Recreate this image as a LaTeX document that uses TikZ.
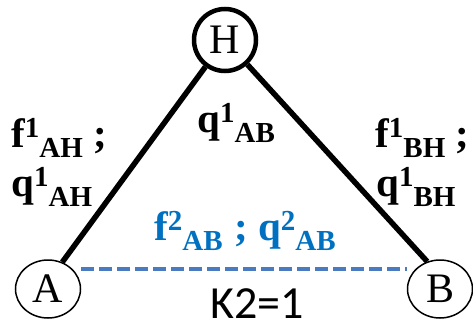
\documentclass[tikz,border=0pt]{standalone}
\usepackage{fontspec}
\setmainfont{Liberation Serif}
\newfontfamily\calfont{Carlito}
\usetikzlibrary{shapes.geometric, positioning, calc}
\definecolor{flowblue}{HTML}{0070C0}
\definecolor{dashblue}{HTML}{4A7BC0}
\newcommand{\scr}{\fontsize{29}{29}\selectfont}
\newcommand{\flowlbl}[3]{#1\raisebox{10pt}{\scr #2}\raisebox{-10pt}{\scr #3}}

\begin{document}
\begin{tikzpicture}[x=1pt, y=-1pt, semithick,
    hub/.style={circle, draw, line width=4.5pt, minimum size=62pt, inner sep=0pt, font=\fontsize{42}{42}\selectfont},
    site/.style={ellipse, draw, line width=1.5pt, minimum width=65pt, minimum height=58pt, inner sep=0pt, font=\fontsize{42}{42}\selectfont},
    lbl/.style={anchor=base west, inner sep=0pt, font=\fontsize{41}{41}\selectfont\bfseries}]
    \useasboundingbox (0,0) rectangle (473,327);
    \node[hub] (H) at (225,40) {H};
    \node[site] (A) at (48,289) {A};
    \node[site] (B) at (440,289) {B};

    \draw[line width=5.5pt] (A.62) -- (H);
    \draw[line width=5.5pt] (H) -- (B.115);
    \draw[dashblue, line width=3.5pt, dash pattern=on 13pt off 5pt]
        ($(A.east)+(0,-20)$) -- ($(B.west)+(0,-20)$);

    % flow labels
    \node[lbl] (lah) at (11,147) {\flowlbl{f}{1}{AH} ;};
    \node[lbl] (qah) at (11,196) {\flowlbl{q}{1}{AH}};
    \node[lbl] (qab) at (197,132) {\flowlbl{q}{1}{AB}};
    \node[lbl] (lbh) at (375,147) {\flowlbl{f}{1}{BH} ;};
    \node[lbl] (qbh) at (376,196) {\flowlbl{q}{1}{BH}};
    \node[lbl, text=flowblue] (lab) at (154,240) {\flowlbl{f}{2}{AB}\;; \flowlbl{q}{2}{AB}};
    \node[anchor=base, inner sep=0pt, font=\calfont\fontsize{46}{46}\selectfont] (k2) at (257,318) {K2=1};
\end{tikzpicture}
\end{document}
